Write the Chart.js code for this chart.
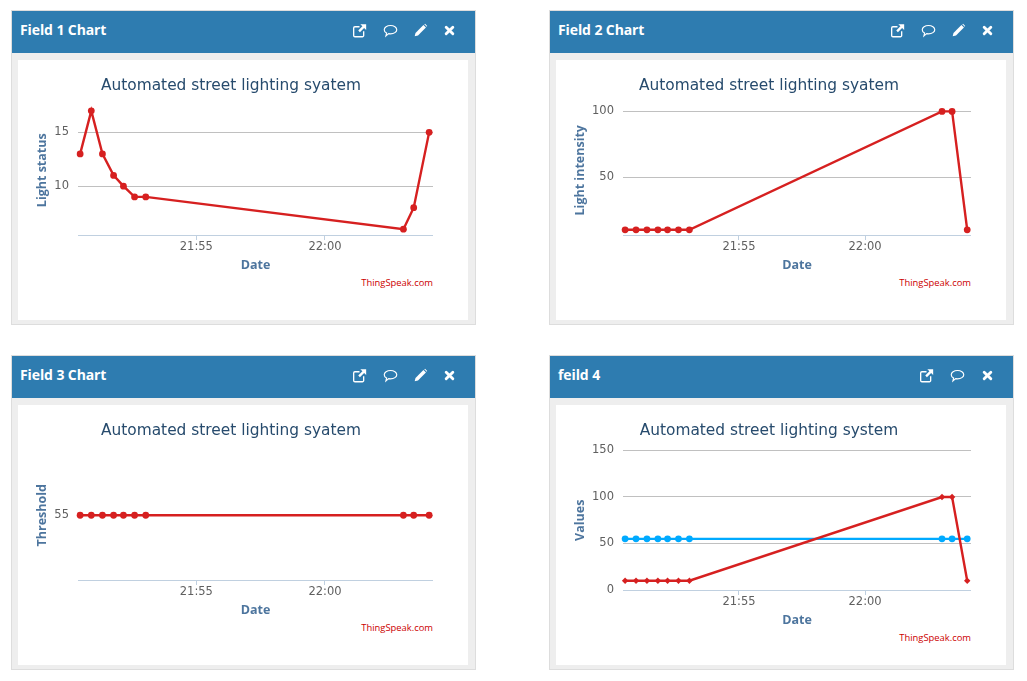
<!DOCTYPE html>
<html>
<head>
<meta charset="utf-8">
<title>ThingSpeak fields</title>
<script src="https://cdn.jsdelivr.net/npm/chart.js@4/dist/chart.umd.min.js"></script>
<style>
html, body { margin: 0; padding: 0; background: #fff; overflow: hidden; }
.panel { position: absolute; width: 463px; height: 313px; background: #eee; border: 1px solid #ddd; }
.panel-head { position: absolute; left: 0; top: 0; width: 463px; height: 42px; background: #2e7cb0; color: #fff; }
.panel-name { position: absolute; left: 8px; top: 9px; font: 700 14px "Open Sans", sans-serif; letter-spacing: -0.1px; }
.panel-head svg { position: absolute; top: 12px; width: 15px; height: 15px; }
.panel-body { position: absolute; left: 6px; top: 49px; width: 450px; height: 260px; background: #fff; }
.panel-body canvas { position: absolute; left: 11px; top: 0; }
.credit { position: absolute; font: 9.4px "Open Sans", sans-serif; color: #cc0000; white-space: nowrap; }
</style>
</head>
<body>
<script>
var times = ["21:50:29","21:50:55","21:51:21","21:51:47","21:52:10","21:52:36","21:53:02","22:03:03","22:03:27","22:04:03"];
var lightStatus = [13,17,13,11,10,9,9,6,8,15];
var lightIntensity = [10,10,10,10,10,10,10,100,100,10];
var threshold = [55,55,55,55,55,55,55,55,55,55];
var xTickLabels = ["21:55","22:00"];
var statusTicks = [10,15];
var intensityTicks = [50,100];
var thresholdTicks = [55];
var valuesTicks = [0,50,100,150];

var RED = "#d62020";
var BLUE = "#00aaff";
var TITLE_FONT = "'DejaVu Sans', sans-serif";
var AXIS_TITLE_FONT = { family: "'Open Sans', sans-serif", size: 12.5, weight: "bold" };

var icons = {
    link: '<path d="M14 10v5a1.5 1.5 0 0 1-1.5 1.5h-9A1.5 1.5 0 0 1 2 15V6a1.5 1.5 0 0 1 1.5-1.5H9" fill="none" stroke="#fff" stroke-width="1.6"/><path d="M10 1.5h7v7l-2.5-2.5-5 5-2-2 5-5z" fill="#fff"/>',
    comment: '<path d="M9 3c4.2 0 7.5 2.2 7.5 5s-3.3 5-7.5 5c-.8 0-1.5-.1-2.200-.2L3.500 15.500l.8-3.400C2.500 11.200 1.500 9.700 1.500 8c0-2.800 3.300-5 7.500-5z" fill="none" stroke="#fff" stroke-width="1.4"/>',
    pencil: '<path d="M12.500 2.500l3 3-9.500 9.500-4 1 1-4z" fill="#fff"/><path d="M13.500 1.500l1-.5 2.500 2.500-.5 1z" fill="#fff"/>',
    close: '<path d="M5 5l8 8M13 5l-8 8" stroke="#fff" stroke-width="3.400" stroke-linecap="round"/>'
};

function toMinutes(t){
    var p = t.split(":");
    return Number(p[0]) * 60 + Number(p[1]) + (p[2] ? Number(p[2]) / 60 : 0);
}

function formatMinutes(v){
    var m = Math.round(v);
    var mm = m % 60;
    return Math.floor(m / 60) + ":" + (mm < 10 ? "0" + mm : mm);
}

function points(values){
    return values.map(function(v,i){ return {x: toMinutes(times[i]), y: v}; });
}

function addPanel(left, top, name, iconList){
    var html = '<div class="panel" style="left:' + left + 'px;top:' + top + 'px">';
    html += '<div class="panel-head"><div class="panel-name">' + name + '</div>';
    iconList.forEach(function(ic){
        html += '<svg viewBox="0 0 18 18" style="left:' + ic[1] + 'px">' + icons[ic[0]] + '</svg>';
    });
    html += '</div><div class="panel-body"></div></div>';
    document.body.insertAdjacentHTML("beforeend", html);
    return document.body.lastElementChild.querySelector(".panel-body");
}

function addChart(body, cfg){
    var canvas = document.createElement("canvas");
    canvas.width = 404;
    canvas.height = 45 + cfg.plotHeight + 39;
    canvas.style.width = canvas.width + "px";
    canvas.style.height = canvas.height + "px";
    body.appendChild(canvas);

    var credit = document.createElement("div");
    credit.className = "credit";
    credit.textContent = "ThingSpeak.com";
    credit.style.right = (450 - 415) + "px";
    credit.style.top = (45 + cfg.plotHeight + 41) + "px";
    body.appendChild(credit);

    new Chart(canvas, {
        type: "line",
        data: { datasets: cfg.datasets },
        options: {
            responsive: false,
            animation: false,
            devicePixelRatio: 1,
            layout: { padding: 0, autoPadding: false },
            plugins: {
                legend: { display: false },
                tooltip: { enabled: false },
                title: {
                    display: true,
                    text: cfg.title,
                    color: "#274b6d",
                    font: { family: TITLE_FONT, size: 15.4, weight: "normal" },
                    padding: { top: 17, bottom: 10 }
                }
            },
            scales: {
                x: {
                    type: "linear",
                    min: toMinutes("21:50:24"),
                    max: toMinutes("22:04:12"),
                    afterFit: function(s){ s.height = 39; s.paddingLeft = 0; s.paddingRight = 0; },
                    afterBuildTicks: function(s){
                        s.ticks = xTickLabels.map(function(l){ return {value: toMinutes(l)}; });
                    },
                    border: { color: "#c0d0e0" },
                    grid: { drawOnChartArea: false, color: "#c0d0e0", tickLength: 5 },
                    ticks: {
                        color: "#606060",
                        padding: 0,
                        maxRotation: 0,
                        autoSkip: false,
                        font: { family: TITLE_FONT, size: 11.5 },
                        callback: function(v){ return formatMinutes(v); }
                    },
                    title: {
                        display: true,
                        text: "Date",
                        color: "#4d759e",
                        padding: { top: 0, bottom: 1 },
                        font: AXIS_TITLE_FONT
                    }
                },
                y: {
                    min: cfg.yMin,
                    max: cfg.yMax,
                    afterFit: function(s){ s.width = cfg.axisWidth; },
                    afterBuildTicks: function(s){
                        s.ticks = cfg.yTicks.map(function(v){ return {value: v}; });
                    },
                    border: { display: false },
                    grid: { color: "#c0c0c0", drawTicks: false },
                    ticks: {
                        color: "#606060",
                        padding: 9,
                        font: { family: TITLE_FONT, size: 11.5 }
                    },
                    title: {
                        display: true,
                        text: cfg.yTitle,
                        color: "#4d759e",
                        padding: { top: 6, bottom: 0 },
                        font: AXIS_TITLE_FONT
                    }
                }
            }
        }
    });
}

function redLine(values, marker){
    return {
        data: points(values),
        borderColor: RED,
        backgroundColor: RED,
        borderWidth: 2.4,
        pointRadius: marker === "rectRot" ? 3.2 : 3.4,
        pointStyle: marker,
        pointBorderWidth: 0,
        clip: false,
        tension: 0
    };
}

var p1 = addPanel(11, 10, "Field 1 Chart", [["link",340],["comment",371],["pencil",401],["close",430]]);
addChart(p1, { title: "Automated street lighting syatem", yTitle: "Light status", axisWidth: 49, plotHeight: 130,
    yMin: 5.46, yMax: 17.5, yTicks: statusTicks, datasets: [redLine(lightStatus, "circle")] });

var p2 = addPanel(549, 10, "Field 2 Chart", [["link",340],["comment",371],["pencil",401],["close",430]]);
addChart(p2, { title: "Automated street lighting syatem", yTitle: "Light intensity", axisWidth: 56, plotHeight: 130,
    yMin: 6.06, yMax: 104.5, yTicks: intensityTicks, datasets: [redLine(lightIntensity, "circle")] });

var p3 = addPanel(11, 355, "Field 3 Chart", [["link",340],["comment",371],["pencil",401],["close",430]]);
addChart(p3, { title: "Automated street lighting syatem", yTitle: "Threshold", axisWidth: 49, plotHeight: 130,
    yMin: 50, yMax: 60, yTicks: thresholdTicks, datasets: [redLine(threshold, "circle")] });

var p4 = addPanel(549, 355, "feild 4", [["link",369],["comment",400],["close",430]]);
addChart(p4, { title: "Automated street lighting system", yTitle: "Values", axisWidth: 56, plotHeight: 140,
    yMin: 0, yMax: 150, yTicks: valuesTicks, datasets: [
        { data: points(threshold), borderColor: BLUE, backgroundColor: BLUE, borderWidth: 2.4, pointRadius: 3.4, pointBorderWidth: 0, clip: false, tension: 0, order: 2 },
        Object.assign(redLine(lightIntensity, "rectRot"), { order: 1 })
    ] });
</script>
</body>
</html>
